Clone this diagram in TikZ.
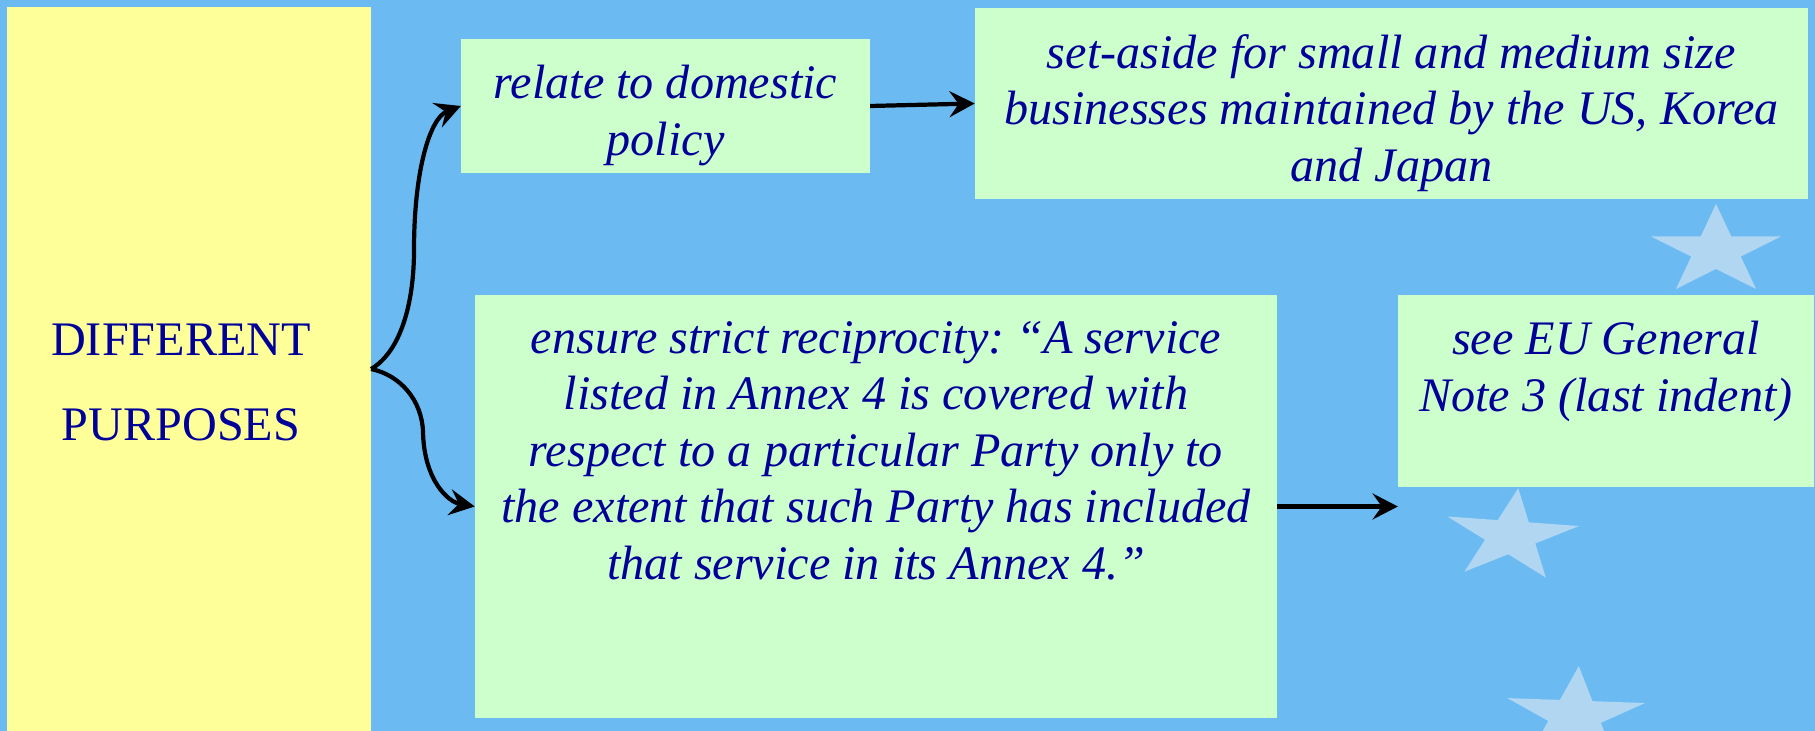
\documentclass[tikz,border=0pt]{standalone}
\usepackage{fontspec}
\setmainfont{Liberation Serif}
\frenchspacing
\usetikzlibrary{arrows.meta,shapes.geometric}

\definecolor{flagblue}{RGB}{107,187,242}
\definecolor{starblue}{RGB}{176,214,242}
\definecolor{padyellow}{RGB}{255,255,153}
\definecolor{padgreen}{RGB}{204,255,204}
\definecolor{inkblue}{RGB}{0,0,153}

\begin{document}
\begin{tikzpicture}[x=0.01cm, y=-0.01cm,
    pad/.style={rectangle, inner sep=0pt, outer sep=0pt},
    txt/.style={text=inkblue, align=center, inner sep=0pt, anchor=north, yshift=-0.255cm,
        font=\fontsize{13.7}{16.1}\selectfont\itshape, execute at begin node={\rule{0pt}{12pt}}},
    arr/.style={line width=1.2pt, -{Stealth[length=7.2pt, width=7.4pt, inset=2.6pt]}},
    eustar/.style={star, star points=5, star point ratio=2.618, fill=starblue, inner sep=0pt}]
        \useasboundingbox (0,0) rectangle (1815,731);
        \fill[flagblue] (0,0) rectangle (1815,731);
        % stars of the flag
        \foreach \sx/\sy/\sr/\ss in {1716/251/0/0.94, 1511/536/-6/0.96, 1575/716/-3/1.0}
            \node[eustar, minimum size=\ss cm, xscale=1.45, rotate=\sr] at (\sx,\sy) {};
        % boxes
        \node[pad, fill=padyellow, minimum width=3.64cm, minimum height=7.24cm] (purp) at (189,369) {};
        \node[pad, fill=padgreen, minimum width=4.09cm, minimum height=1.34cm] (dom) at (665.5,106) {};
        \node[pad, fill=padgreen, minimum width=8.33cm, minimum height=1.91cm] (aside) at (1391.5,103.5) {};
        \node[pad, fill=padgreen, minimum width=8.02cm, minimum height=4.23cm] (recip) at (876,506.5) {};
        \node[pad, fill=padgreen, minimum width=4.16cm, minimum height=1.92cm] (note) at (1606,391) {};
        % texts
        \node[text=inkblue, align=center, inner sep=0pt, anchor=north,
            font=\fontsize{13.7}{24.2}\selectfont, execute at begin node={\rule{0pt}{12pt}}]
            (purp-t) at (181,323) {DIFFERENT\\PURPOSES};
        \node[txt] (dom-t) at (dom.north) {relate to domestic\\policy};
        \node[txt] (aside-t) at (aside.north) {set-aside for small and medium size\\businesses maintained by the US, Korea\\and Japan};
        \node[txt] (recip-t) at (recip.north) {ensure strict reciprocity: “A service\\listed in Annex 4 is covered with\\respect to a particular Party only to\\the extent that such Party has included\\that service in its Annex 4.”};
        \node[txt] (note-t) at (note.north) {see EU General\\Note 3 (last indent)};
        % connectors
        \draw[arr] (purp.east) .. controls (400,352) and (414,305) .. (414,250)
            .. controls (414,170) and (430,118) .. (dom.west);
        \draw[arr] (purp.east) .. controls (400,375) and (422,400) .. (423,432)
            .. controls (424,480) and (448,502) .. (recip.west);
        \draw[arr] (dom.east) -- (aside.west);
        \draw[arr] (recip.east) -- (recip.east -| note.west);
    \end{tikzpicture}
\end{document}
